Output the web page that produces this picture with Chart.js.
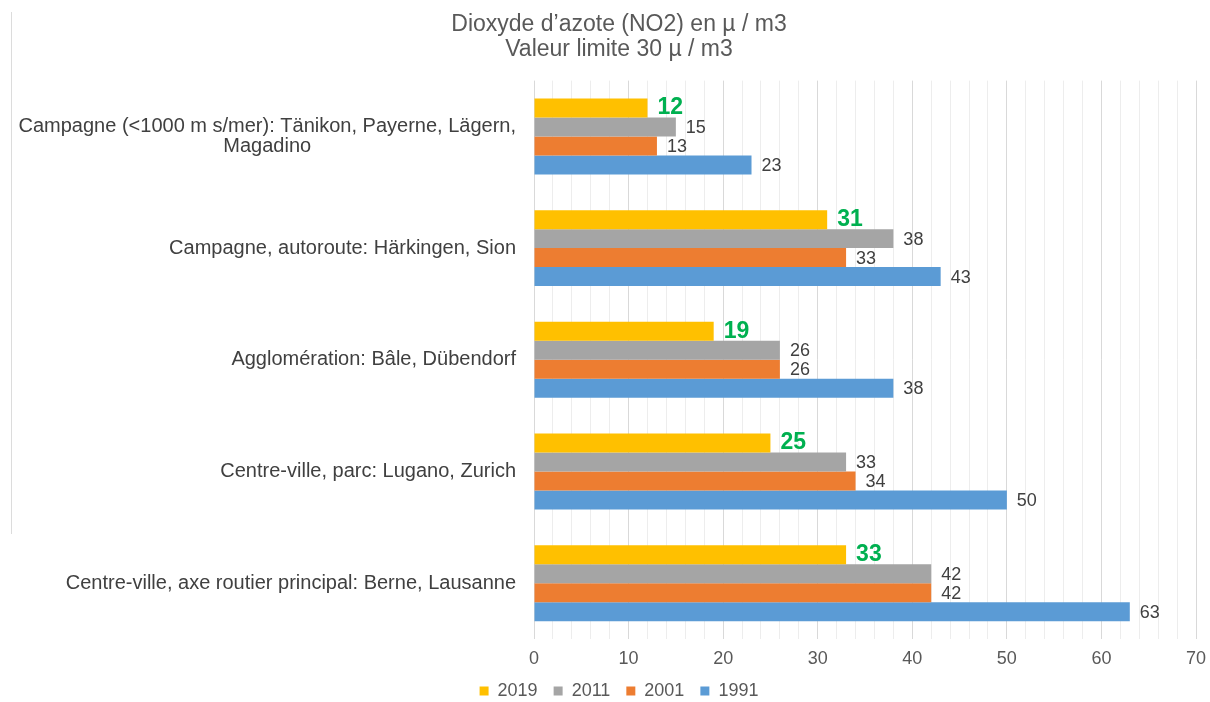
<!DOCTYPE html>
<html>
<head>
<meta charset="utf-8">
<script src="https://cdn.jsdelivr.net/npm/chart.js@4.4.1/dist/chart.umd.min.js"></script>
<style>
  html, body { margin: 0; padding: 0; background: #fff; }
  #wrap { width: 1210px; height: 702px; position: relative; }
  #edge { position: absolute; left: 11px; top: 12px; width: 1px; height: 522px; background: #dcdcdc; }
</style>
</head>
<body>
<div id="wrap"><canvas id="c"></canvas><div id="edge"></div></div>
<script>
// Données du graphique
const categories = [
  ['Campagne (<1000 m s/mer): Tänikon, Payerne, Lägern,', 'Magadino'],
  'Campagne, autoroute: Härkingen, Sion',
  'Agglomération: Bâle, Dübendorf',
  'Centre-ville, parc: Lugano, Zurich',
  'Centre-ville, axe routier principal: Berne, Lausanne',
];
const years  = ['2019', '2011', '2001', '1991'];
const v2019  = [12, 31, 19, 25, 33];
const v2011  = [15, 38, 26, 33, 42];
const v2001  = [13, 33, 26, 34, 42];
const v1991  = [23, 43, 38, 50, 63];
const series = [v2019, v2011, v2001, v1991];
const colors = ['#FFC000', '#A5A5A5', '#ED7D31', '#5B9BD5'];
const titleLines = ['Dioxyde d’azote (NO2) en µ / m3', 'Valeur limite 30 µ / m3'];

const FONT   = "'Liberation Sans', Arial, sans-serif";
const PAD_L  = 42;
const AXIS_X = 534; // bord gauche de la zone de tracé

// Étiquettes de l'axe Y : alignées à droite, lignes centrées entre elles
const yLabels = {
  id: 'yLabels',
  afterDraw(chart) {
    const ctx = chart.ctx, y = chart.scales.y;
    ctx.save();
    ctx.font = `20px ${FONT}`;
    ctx.fillStyle = '#404040';
    ctx.textAlign = 'center';
    ctx.textBaseline = 'middle';
    categories.forEach((lab, i) => {
      const lines = Array.isArray(lab) ? lab : [lab];
      const w  = Math.max(...lines.map(l => ctx.measureText(l).width));
      const cx = y.right - 18 - w / 2;
      const cy = y.getPixelForTick(i);
      lines.forEach((l, k) => ctx.fillText(l, cx, cy + (k - (lines.length - 1) / 2) * 20));
    });
    ctx.restore();
  },
};

// Valeurs au bout des barres (2019 en vert gras)
const valueLabels = {
  id: 'valueLabels',
  afterDatasetsDraw(chart) {
    const ctx = chart.ctx;
    ctx.save();
    ctx.textAlign = 'left';
    ctx.textBaseline = 'middle';
    chart.data.datasets.forEach((ds, di) => {
      const first = di === 0;
      ctx.font = first ? `bold 23px ${FONT}` : `18px ${FONT}`;
      ctx.fillStyle = first ? '#00B050' : '#404040';
      chart.getDatasetMeta(di).data.forEach((bar, i) => {
        ctx.fillText(ds.data[i], bar.x + 10, bar.y + (first ? 0 : 1));
      });
    });
    ctx.restore();
  },
};

new Chart(document.getElementById('c'), {
  type: 'bar',
  data: {
    labels: categories,
    datasets: years.map((y, i) => ({
      label: y,
      data: series[i],
      backgroundColor: colors[i],
      borderWidth: 0,
      categoryPercentage: 0.68,
      barPercentage: 1.0,
    })),
  },
  options: {
    indexAxis: 'y',
    responsive: true,
    maintainAspectRatio: false,
    animation: false,
    layout: { padding: { left: PAD_L, right: 14, top: 0, bottom: -8 } },
    scales: {
      x: {
        min: 0, max: 70,
        ticks: {
          stepSize: 2, autoSkip: false, maxRotation: 0, padding: 9,
          color: '#595959', font: { family: FONT, size: 18 },
          callback: v => (v % 10 === 0 ? v : ''),
        },
        grid: {
          drawTicks: false,
          color: c => (c.tick && c.tick.value % 10 === 0 ? '#D9D9D9' : '#EDEDED'),
        },
        border: { display: false },
        afterFit(s) { s.height = 27; s.paddingRight = 0; s.paddingLeft = 0; },
      },
      y: {
        ticks: { display: false },
        grid: { display: false },
        border: { display: false },
        afterFit(s) { s.width = AXIS_X - PAD_L; },
      },
    },
    plugins: {
      title: {
        display: true,
        text: titleLines,
        color: '#595959',
        font: { family: FONT, size: 23, weight: 'normal', lineHeight: 1.1 },
        padding: { top: 12, bottom: 18 },
      },
      legend: {
        position: 'bottom',
        labels: { color: '#595959', font: { family: FONT, size: 18 }, boxWidth: 9, boxHeight: 9, padding: 16 },
      },
      tooltip: { enabled: false },
    },
  },
  plugins: [valueLabels, yLabels],
});
</script>
</body>
</html>
